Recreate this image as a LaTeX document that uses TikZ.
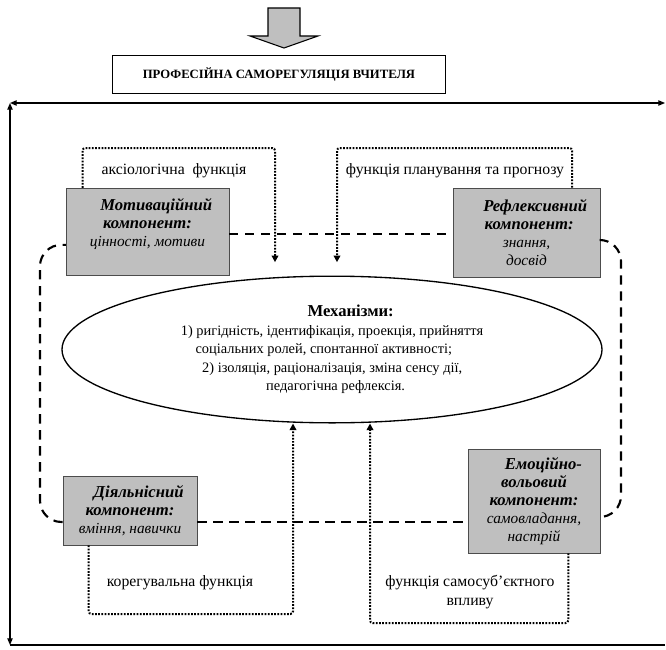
\documentclass[tikz,border=0pt]{standalone}
\usepackage{fontspec}
\setmainfont{Liberation Serif}
\usetikzlibrary{arrows.meta, shapes.geometric}

\newcommand{\comphead}[1]{{\fontsize{12.5}{13.6}\selectfont\textbf{\textit{#1}}}}

\begin{document}
\begin{tikzpicture}[
    x=0.75pt, y=-0.75pt,
    comp/.style={draw=black!70, fill=black!25, align=center, inner sep=2pt, font=\fontsize{11.5}{13.6}\selectfont},
    ftext/.style={align=center, font=\fontsize{11.8}{13.8}\selectfont},
    link/.style={line width=1.5pt, dash pattern=on 1.3pt off 1.1pt, rounded corners=2pt, -{Triangle[length=5pt, width=5pt]}},
    loopline/.style={line width=1.6pt, dash pattern=on 7pt off 5pt, rounded corners=16pt},
    frame/.style={line width=0.9pt, {Triangle[length=5pt, width=4pt]}-{Triangle[length=5pt, width=4pt]}}
]
\useasboundingbox (0,0) rectangle (666,649);

% input arrow
\draw[fill=black!25, line width=0.8pt] (268,8) -- (300,8) -- (300,36) -- (318,36) -- (284,48) -- (250,36) -- (268,36) -- cycle;
\node[draw, line width=0.6pt, minimum width=250pt, minimum height=28.5pt, font=\fontsize{9.5}{12}\selectfont\bfseries] (title) at (279,74) {ПРОФЕСІЙНА САМОРЕГУЛЯЦІЯ ВЧИТЕЛЯ};

% outer frame
\coordinate (tl) at (10,103);
\coordinate (tr) at (665,103);
\coordinate (bl) at (10,645);
\coordinate (br) at (665,645);
\draw[frame] (tl) -- (tr);
\draw[frame] (tl) -- (bl);
\draw[frame, {-}] (bl) -- (br);

% components
\node[comp, minimum width=122pt, minimum height=65pt] (mot) at (147.5,231.5)
    {\hspace*{13pt}\comphead{Мотиваційний}\\\comphead{компонент:}\\\textit{цінності, мотиви}\\~};
\node[comp, minimum width=110pt, minimum height=67pt] (refl) at (526.5,232.5)
    {\hspace*{13pt}\comphead{Рефлексивний}\\\hspace*{4pt}\comphead{компонент:}\\\textit{знання,}\\\textit{досвід}};
\node[comp, minimum width=100.5pt, minimum height=52pt] (act) at (130,510.5)
    {\hspace*{13pt}\comphead{Діяльнісний}\\\comphead{компонент:}\\\textit{вміння, навички}};
\node[comp, minimum width=99pt, minimum height=78pt] (emo) at (534,501)
    {\hspace*{14pt}\comphead{Емоційно-}\\\comphead{вольовий}\\\comphead{компонент:}\\\textit{самовладання,}\\\textit{настрій}};

% mechanisms
\node[draw, ellipse, line width=1pt, inner sep=0pt, minimum width=405pt, minimum height=110pt, align=left, font=\fontsize{10.8}{13.9}\selectfont] (mech) at (332,349.5)
    {\hspace*{95pt}{\fontsize{12.5}{13.9}\selectfont\textbf{Механізми:}}\\
     1) ригідність, ідентифікація, проекція, прийняття\hspace*{27pt}\\
     \hspace*{11pt}соціальних ролей, спонтанної активності;\\
     \hspace*{16pt}2) ізоляція, раціоналізація, зміна сенсу дії,\\
     \hspace*{64pt}педагогічна рефлексія.};
\coordinate (mtop) at ([yshift=10pt]mech.north);

% dashed loop
\coordinate (rloop) at (621,380);
\coordinate (lloop) at (40,380);
\draw[loopline] ([yshift=-2pt]mot.east) -- ([yshift=-2pt]mot.east -| refl.west);
\draw[loopline] ([yshift=-5.6pt]refl.east) -| (rloop) |- ([yshift=-12pt]emo.east);
\draw[loopline] ([yshift=-8.6pt]act.east) -- ([yshift=-8.6pt]act.east -| emo.west);
\draw[loopline] ([yshift=-8.6pt]act.west) -| (lloop) |- ([yshift=-10pt]mot.west);

% functions
\coordinate (ax) at (275,148);
\coordinate (pl) at (337,148);
\coordinate (kr) at (293,614);
\coordinate (ss) at (370,623);
\draw[link] ([xshift=12.5pt]mot.north west) |- (ax) -- (ax |- mtop);
\draw[link] ([xshift=-21pt]refl.north east) |- (pl) -- (pl |- mtop);
\draw[link] ([xshift=19.5pt]act.south west) |- (kr) -- (kr |- mech.south);
\draw[link] ([xshift=-24pt]emo.south east) |- (ss) -- (ss |- mech.south);

\node[ftext] (axlabel) at (174,171) {аксіологічна\ \ функція};
\node[ftext] (pllabel) at (455,171) {функція планування та прогнозу};
\node[ftext] (krlabel) at (180,583) {корегувальна функція};
\node[ftext] (sslabel) at (470,592) {функція самосуб’єктного\\впливу};
\end{tikzpicture}
\end{document}
